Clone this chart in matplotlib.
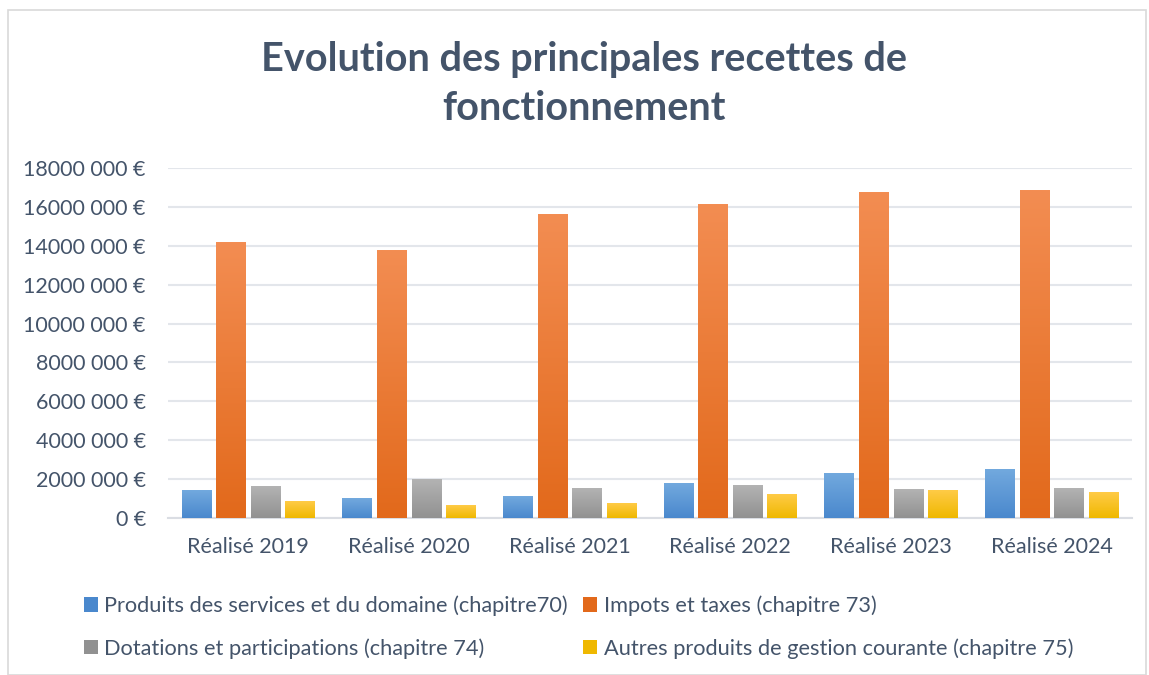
import numpy as np
import matplotlib.pyplot as plt
from matplotlib.patches import Patch, Rectangle
from matplotlib.colors import LinearSegmentedColormap

years = ["Réalisé 2019", "Réalisé 2020", "Réalisé 2021", "Réalisé 2022", "Réalisé 2023", "Réalisé 2024"]

produits = [1.43e6, 1.02e6, 1.12e6, 1.79e6, 2.30e6, 2.51e6]
impots = [14.18e6, 13.77e6, 15.62e6, 16.14e6, 16.75e6, 16.86e6]
dotations = [1.63e6, 2.00e6, 1.53e6, 1.68e6, 1.48e6, 1.53e6]
autres = [0.86e6, 0.65e6, 0.76e6, 1.22e6, 1.43e6, 1.32e6]

series_names = [
    "Produits des services et du domaine (chapitre70)",
    "Impots et taxes (chapitre 73)",
    "Dotations et participations (chapitre 74)",
    "Autres produits de gestion courante (chapitre 75)",
]

yticks = [0, 2e6, 4e6, 6e6, 8e6, 10e6, 12e6, 14e6, 16e6, 18e6]
ytick_labels = ["0 €", "2000 000 €", "4000 000 €", "6000 000 €", "8000 000 €",
                "10000 000 €", "12000 000 €", "14000 000 €", "16000 000 €", "18000 000 €"]

# (top colour, bottom colour) for the gradient fill
grads = [("#72A9DE", "#4A88CD"), ("#F38D52", "#E2691B"),
         ("#B3B3B3", "#919191"), ("#FFCB47", "#EFB800")]

text_color = "#44546A"
plt.rcParams["font.family"] = ["Lato", "DejaVu Sans"]

fig = plt.figure(figsize=(11.49, 6.75), dpi=100)
ax = fig.add_axes([168 / 1149, 1 - 518 / 675, (1132 - 168) / 1149, 350 / 675])

# chart border
fig.patches.append(Rectangle((8 / 1149, 0), 1138 / 1149, 1 - 10 / 675,
                             transform=fig.transFigure, fill=False,
                             edgecolor="#D9D9D9", linewidth=1.2))

x = np.arange(len(years))
pitch = 0.215
width = 0.183
all_series = [produits, impots, dotations, autres]

for i, (vals, (top, bot)) in enumerate(zip(all_series, grads)):
    cmap = LinearSegmentedColormap.from_list("g%d" % i, [bot, top])
    bars = ax.bar(x + (i - 1.5) * pitch, vals, width, color="none", zorder=3)
    for b in bars:
        x0, y0 = b.get_x(), b.get_y()
        w, h = b.get_width(), b.get_height()
        grad = np.linspace(0, 1, 256).reshape(-1, 1)
        im = ax.imshow(grad, cmap=cmap, origin="lower", aspect="auto",
                       extent=[x0, x0 + w, y0, y0 + h], zorder=3)
        im.set_clip_path(b)

ax.set_xlim(-0.5, 5.5)
ax.set_ylim(0, 18e6)
ax.set_yticks(yticks)
ax.set_yticklabels(ytick_labels)
ax.set_xticks(x)
ax.set_xticklabels(years)
ax.tick_params(axis="both", length=0, labelsize=15.5, colors=text_color)
ax.tick_params(axis="y", pad=16)
ax.tick_params(axis="x", pad=14)
ax.grid(axis="y", color="#E3E6EB", linewidth=1.5, zorder=0)
for s in ["top", "right", "left"]:
    ax.spines[s].set_visible(False)
ax.spines["bottom"].set_color("#DADDE3")
ax.spines["bottom"].set_linewidth(1.5)

fig.text(0.508, 1 - 60 / 675, "Evolution des principales recettes de",
         fontsize=28.5, fontweight="bold", color=text_color, ha="center", va="center")
fig.text(0.508, 1 - 109 / 675, "fonctionnement",
         fontsize=28.5, fontweight="bold", color=text_color, ha="center", va="center")

handles = [Patch(facecolor=grads[k][1], label=series_names[k]) for k in [0, 2, 1, 3]]
fig.legend(handles=handles, ncol=2, loc="upper left",
           bbox_to_anchor=(64 / 1149, 1 - 576 / 675), frameon=False,
           fontsize=15.7, labelcolor=text_color, handlelength=0.65,
           handleheight=0.65, handletextpad=0.3, columnspacing=0.7,
           labelspacing=1.0)

fig.savefig("out.png", dpi=100)
